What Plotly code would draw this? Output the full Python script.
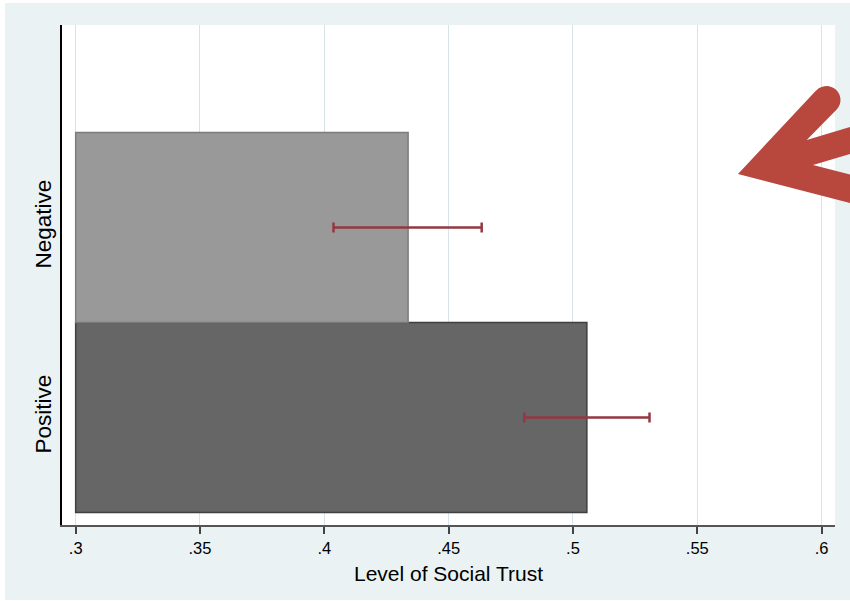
import math
import plotly.graph_objects as go

# ---- data ----
categories = ["Positive", "Negative"]
means = [0.5056, 0.4337]
ci_low = [0.4804, 0.4037]
ci_high = [0.5308, 0.4633]
bar_base = 0.3
x_tickvals = [0.3, 0.35, 0.4, 0.45, 0.5, 0.55, 0.6]
x_ticktext = [".3", ".35", ".4", ".45", ".5", ".55", ".6"]
x_title = "Level of Social Trust"

# ---- styling ----
W, H = 850, 601
ML, MR, MT, MB = 62, 15, 25, 76
PW, PH = W - ML - MR, H - MT - MB
BG = "#eaf2f3"
GRID = "#d6e4ea"
ERR = "#943842"
ARROW = "#b8473d"
FONT = "Liberation Sans, Arial, Helvetica, sans-serif"

sizes = [m - bar_base for m in means]
err_plus = [h - m for h, m in zip(ci_high, means)]
err_minus = [m - l for m, l in zip(means, ci_low)]

fig = go.Figure()
fig.add_trace(go.Bar(
    y=categories,
    x=sizes,
    base=bar_base,
    orientation="h",
    width=1.0,
    marker=dict(color=["#666666", "#999999"],
                line=dict(color=["#3f3f3f", "#7c7c7c"], width=1.5)),
    error_x=dict(type="data", array=err_plus, arrayminus=err_minus,
                 symmetric=False, color=ERR, thickness=2.5, width=5),
    showlegend=False,
    hoverinfo="skip",
))


def px2paper(px, py):
    return (px - ML) / PW, (MT + PH - py) / PH


# arrow decoration (pixel geometry -> paper coords)
cx, cy, r = 826.5, 100.0, 14.0
pts = [(738, 174), (816.3, 90.3)]
a0, a1 = math.atan2(-0.69, -0.73), math.atan2(0.69, 0.73)
n = 14
for i in range(n + 1):
    a = a0 + (a1 - a0) * i / n
    pts.append((cx + r * math.cos(a), cy + r * math.sin(a)))
pts += [(806.7, 140), (875, 119.5), (875, 146.5), (813, 165),
        (875, 181.1), (875, 209.5)]
path = "M " + " L ".join("%.5f,%.5f" % px2paper(x, y) for x, y in pts) + " Z"

shapes = [
    dict(type="path", xref="paper", yref="paper", path=path,
         fillcolor=ARROW, line=dict(width=0), layer="above"),
]
# thin white frame strips around the graph region
lx0, ty1 = px2paper(0, 0)
lx1, ty0 = px2paper(5, 3)
rx, by = px2paper(W + 5, H + 5)
_, bline = px2paper(0, 600)
shapes.append(dict(type="rect", xref="paper", yref="paper", x0=lx0, x1=lx1,
                   y0=by, y1=ty1, fillcolor="white", line=dict(width=0),
                   layer="below"))
shapes.append(dict(type="rect", xref="paper", yref="paper", x0=lx0, x1=rx,
                   y0=ty0, y1=ty1, fillcolor="white", line=dict(width=0),
                   layer="below"))
shapes.append(dict(type="rect", xref="paper", yref="paper", x0=lx0, x1=rx,
                   y0=by, y1=bline, fillcolor="white", line=dict(width=0),
                   layer="below"))

fig.update_layout(
    width=W, height=H,
    margin=dict(l=ML, r=MR, t=MT, b=MB, pad=0),
    paper_bgcolor=BG,
    plot_bgcolor="white",
    font=dict(family=FONT, color="black"),
    shapes=shapes,
    xaxis=dict(
        range=[0.2945, 0.6054],
        tickvals=x_tickvals, ticktext=x_ticktext,
        ticks="outside", ticklen=7, tickwidth=1.5, tickcolor="#444444",
        tickfont=dict(size=16.5, family=FONT, color="black"),
        showgrid=True, gridcolor=GRID, gridwidth=1,
        showline=True, linecolor="#555555", linewidth=2,
        zeroline=False,
        title=dict(text=x_title, font=dict(size=21, family=FONT, color="black"),
                   standoff=11),
    ),
    yaxis=dict(
        type="category",
        categoryorder="array", categoryarray=categories,
        range=[-0.566, 2.066],
        tickangle=-90,
        ticks="", ticklen=0,
        tickfont=dict(size=22.5, family=FONT, color="black"),
        showgrid=False,
        showline=True, linecolor="black", linewidth=1.5,
        zeroline=False,
    ),
)

fig.write_html(
    "out.html",
    config={"displayModeBar": False},
    post_script=(
        "document.documentElement.style.margin='0';"
        "document.documentElement.style.overflow='hidden';"
        "document.body.style.margin='0';document.body.style.padding='0';"
        "document.body.style.overflow='hidden';"
    ),
)
